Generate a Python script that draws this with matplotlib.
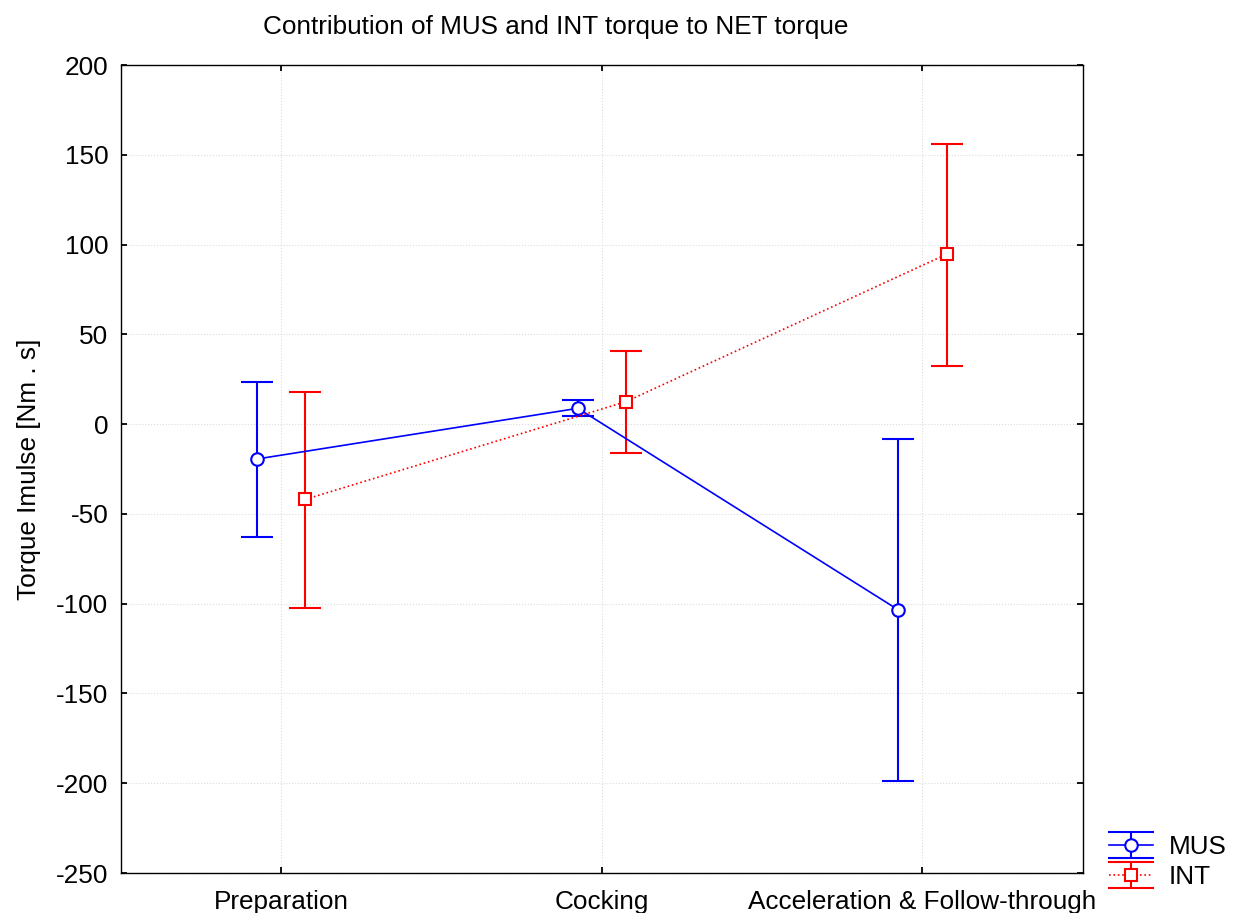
import matplotlib.pyplot as plt
from matplotlib.lines import Line2D
import numpy as np

plt.rcParams['font.family'] = ['Liberation Sans', 'DejaVu Sans']
plt.rcParams['axes.unicode_minus'] = False

# phases and the two torque components (mean and error bar limits)
phases = ["Preparation", "Cocking", "Acceleration & Follow-through"]

mus_mean = [-19.4, 8.8, -103.5]
mus_upper = [23.6, 13.4, -8.3]
mus_lower = [-62.7, 4.3, -198.8]

int_mean = [-41.9, 12.5, 94.6]
int_upper = [18.0, 40.7, 156.0]
int_lower = [-102.6, -16.1, 32.4]

fig = plt.figure(figsize=(12.41, 9.13), dpi=100)
ax = fig.add_axes([0.0975, 0.0438, 0.775, 0.885])

x = np.arange(len(phases))
offset = 0.075

mus_err = [np.array(mus_mean) - np.array(mus_lower), np.array(mus_upper) - np.array(mus_mean)]
int_err = [np.array(int_mean) - np.array(int_lower), np.array(int_upper) - np.array(int_mean)]

ax.errorbar(x - offset, mus_mean, yerr=mus_err, color='#0000FF', ls='-', lw=1.2,
            marker='o', ms=9, mfc='white', mec='#0000FF', mew=1.5,
            capsize=11.5, capthick=1.5, elinewidth=1.5, label='MUS', zorder=3)
ax.errorbar(x + offset, int_mean, yerr=int_err, color='#FF0000', ls=':', lw=1.2,
            marker='s', ms=8.5, mfc='white', mec='#FF0000', mew=1.5,
            capsize=11.5, capthick=1.5, elinewidth=1.5, label='INT', zorder=3)

ax.set_xlim(-0.5, 2.5)
ax.set_ylim(-250, 200)
ax.set_xticks(x)
ax.set_xticklabels(phases, fontsize=18.8)
ax.set_yticks(np.arange(-250, 201, 50))
ax.tick_params(axis='y', labelsize=18.8, pad=9)
ax.tick_params(axis='x', pad=12)
ax.tick_params(direction='in', top=True, right=True, length=4, width=1.3)
ax.grid(True, color='#dcdcdc', ls=':', lw=0.8)
ax.set_axisbelow(True)
for s in ax.spines.values():
    s.set_linewidth(1.0)

ax.set_ylabel('Torque Imulse [Nm . s]', fontsize=18.8, labelpad=11)
ax.set_title('Contribution of MUS and INT torque to NET torque', fontsize=18.8, pad=22, x=0.452)

leg = ax.legend(loc='lower left', bbox_to_anchor=(1.008, -0.043), frameon=False,
                fontsize=18.8, handlelength=1.7, handletextpad=0.6, borderpad=0.2,
                labelspacing=0.25)
# make the legend caps as wide as the handle
for ln in leg.findobj(Line2D):
    if ln.get_marker() == '_':
        ln.set_markersize(33)

plt.savefig('out.png', dpi=100)
